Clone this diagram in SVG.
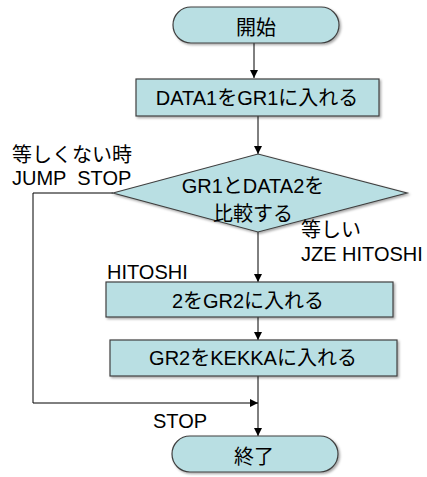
<svg xmlns="http://www.w3.org/2000/svg" width="427" height="477" viewBox="0 0 427 477">
<defs>
<marker id="ah" markerWidth="10" markerHeight="10" refX="8" refY="4" orient="auto" markerUnits="userSpaceOnUse">
<path d="M0,0 L8,4 L0,8 Z" fill="#000"/>
</marker>
<filter id="sh" x="-10%" y="-10%" width="130%" height="140%">
<feDropShadow dx="1.5" dy="1.5" stdDeviation="0.8" flood-color="#000" flood-opacity="0.35"/>
</filter>
</defs>
<style>
.n{fill:#b9dfe3;stroke:#404040;stroke-width:1.2;filter:url(#sh)}
.t{font-family:"Liberation Sans","Noto Sans CJK JP",sans-serif;font-size:20px;fill:#000}
.c{text-anchor:middle}
.l{font-family:"Liberation Sans","Noto Sans CJK JP",sans-serif;font-size:20px;fill:#000;white-space:pre}
.e{fill:none;stroke:#000;stroke-width:1}
</style>
<g id="connectors">
<line class="e" x1="254" y1="43" x2="254" y2="78" marker-end="url(#ah)"/>
<line class="e" x1="258" y1="116" x2="258" y2="154" marker-end="url(#ah)"/>
<line class="e" x1="258" y1="232" x2="258" y2="282" marker-end="url(#ah)"/>
<line class="e" x1="258" y1="317" x2="258" y2="340" marker-end="url(#ah)"/>
<line class="e" x1="258" y1="376" x2="258" y2="436" marker-end="url(#ah)"/>
<polyline class="e" points="113,193 33,193 33,403 258,403" marker-end="url(#ah)"/>
</g>
<g id="start">
<rect class="n" x="173" y="7" width="166" height="36" rx="18"/>
<text class="t c" x="256" y="35">開始</text>
</g>
<g id="box1">
<rect class="n" x="136" y="79" width="243" height="37"/>
<text class="t c" x="257" y="105">DATA1をGR1に入れる</text>
</g>
<g id="decision">
<polygon class="n" points="113,193 258,154 407,193 258,232"/>
<text class="t c" x="253" y="193">GR1とDATA2を</text>
<text class="t c" x="253" y="221">比較する</text>
</g>
<g id="box2">
<rect class="n" x="106" y="282" width="287" height="35"/>
<text class="t c" x="248" y="308">2をGR2に入れる</text>
</g>
<g id="box3">
<rect class="n" x="110" y="340" width="287" height="36"/>
<text class="t c" x="253" y="365">GR2をKEKKAに入れる</text>
</g>
<g id="end">
<rect class="n" x="172" y="436" width="166" height="36" rx="18"/>
<text class="t c" x="254" y="464">終了</text>
</g>
<g id="labels">
<text class="l" x="12" y="162">等しくない時</text>
<text class="l" x="12" y="185">JUMP  STOP</text>
<text class="l" x="301" y="237">等しい</text>
<text class="l" x="301" y="261">JZE HITOSHI</text>
<text class="l" x="107" y="279">HITOSHI</text>
<text class="l" x="153" y="428">STOP</text>
</g>
</svg>
